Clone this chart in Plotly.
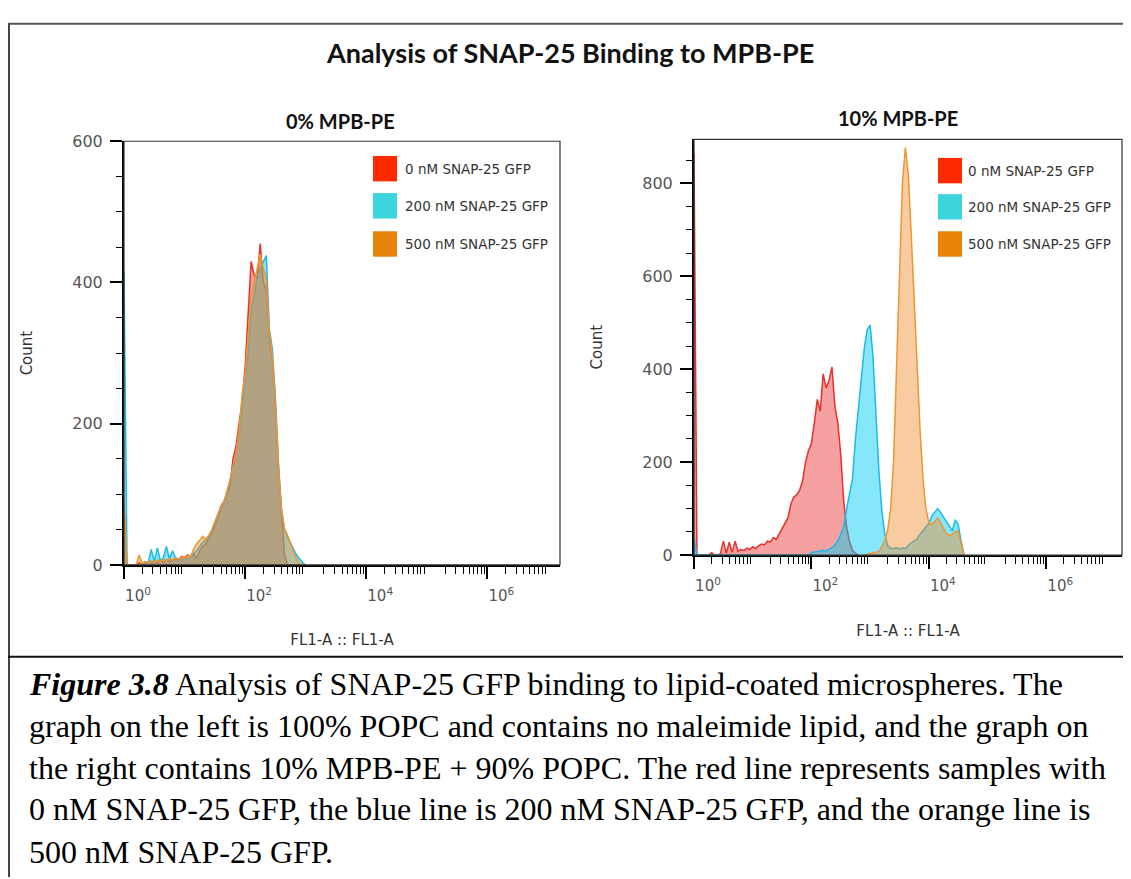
import numpy as np
import plotly.graph_objects as go

W, H = 1131, 879          # page / reference size
OFF = 8                   # default page body margin that offsets the figure

# ---------------- data (log10 FL1-A bin positions, counts) ----------------
SERIES_NAMES = ["0 nM SNAP-25 GFP", "200 nM SNAP-25 GFP", "500 nM SNAP-25 GFP"]

# Left panel: 0% MPB-PE
LEFT_X = [0.00, 0.05, 0.10, 0.15, 0.20, 0.25, 0.30, 0.35, 0.40, 0.45,
          0.50, 0.55, 0.60, 0.65, 0.70, 0.75, 0.80, 0.85, 0.90, 0.95,
          1.00, 1.05, 1.10, 1.15, 1.20, 1.25, 1.30, 1.35, 1.40, 1.45,
          1.50, 1.55, 1.60, 1.65, 1.70, 1.75, 1.80, 1.85, 1.90, 1.95,
          2.00, 2.05, 2.10, 2.15, 2.20, 2.25, 2.30, 2.35, 2.40, 2.45,
          2.50, 2.55, 2.60, 2.65, 2.70, 2.75, 2.80, 2.85, 2.90, 2.95, 3.00]
LEFT_RED = [80, 0, 0, 0, 0, 3, 0, 2, 4, 2,
            5, 3, 6, 4, 7, 5, 6, 8, 7, 12,
            10, 14, 11, 16, 9, 20, 26, 30, 38, 45,
            55, 68, 80, 88, 100, 112, 150, 168, 200, 230,
            280, 360, 430, 410, 405, 455, 400, 390, 320, 290,
            225, 135, 75, 15, 0, 0, 0, 0, 0, 0, 0]
LEFT_CYAN = [415, 0, 0, 0, 0, 0, 2, 3, 4, 22,
             5, 24, 6, 10, 26, 8, 20, 10, 8, 7,
             9, 8, 11, 15, 20, 26, 32, 36, 40, 48,
             58, 70, 84, 90, 100, 118, 138, 158, 185, 225,
             262, 300, 360, 380, 410, 420, 430, 438, 335, 305,
             238, 145, 78, 50, 40, 30, 22, 14, 8, 3, 0]
LEFT_ORANGE = [90, 0, 0, 0, 0, 14, 2, 5, 3, 6,
               4, 7, 5, 8, 6, 9, 7, 10, 8, 11,
               9, 13, 12, 22, 30, 35, 40, 36, 42, 50,
               62, 72, 82, 90, 105, 120, 140, 160, 190, 240,
               270, 320, 380, 400, 420, 440, 420, 405, 330, 295,
               230, 140, 80, 52, 42, 30, 18, 8, 2, 0, 0]

# Right panel: 10% MPB-PE
RIGHT_RED_X = [0.00, 0.05, 0.10, 0.15, 0.20, 0.25, 0.30, 0.35, 0.40, 0.45,
               0.50, 0.55, 0.60, 0.65, 0.70, 0.75, 0.80, 0.85, 0.90, 0.95,
               1.00, 1.05, 1.10, 1.15, 1.20, 1.25, 1.30, 1.35, 1.40, 1.45,
               1.50, 1.55, 1.60, 1.65, 1.70, 1.75, 1.80, 1.85, 1.90, 1.95,
               2.00, 2.05, 2.10, 2.15, 2.20, 2.25, 2.30, 2.35, 2.40, 2.45,
               2.50, 2.55, 2.60, 2.65, 2.70, 2.75, 2.80]
RIGHT_RED = [864, 0, 0, 0, 0, 0, 5, 0, 0, 3,
             30, 4, 28, 6, 30, 8, 12, 10, 15, 12,
             18, 14, 20, 24, 22, 30, 28, 38, 34, 45,
             58, 70, 80, 110, 125, 130, 140, 160, 200, 225,
             240, 285, 335, 310, 390, 360, 375, 405, 320, 285,
             215, 115, 60, 28, 10, 4, 0]
RIGHT_CYAN_X = [0.00, 0.05,
                1.95, 2.00, 2.05, 2.10, 2.15, 2.20, 2.25, 2.30, 2.35, 2.40,
                2.45, 2.50, 2.55, 2.60, 2.65, 2.70, 2.75, 2.80, 2.85, 2.90,
                2.95, 3.00, 3.05, 3.10, 3.15, 3.20, 3.25, 3.30, 3.35, 3.40,
                3.45, 3.50, 3.55, 3.60, 3.65, 3.70, 3.75, 3.80, 3.85, 3.90,
                3.95, 4.00, 4.05, 4.10, 4.15, 4.20, 4.25, 4.30, 4.35, 4.40,
                4.45, 4.50, 4.55, 4.60]
RIGHT_CYAN = [35, 0,
              0, 5, 7, 8, 9, 10, 9, 12, 16, 22,
              31, 45, 62, 100, 135, 165, 250, 320, 390, 445,
              485, 495, 425, 300, 180, 95, 45, 20, 15, 14,
              16, 13, 15, 14, 20, 27, 30, 35, 45, 52,
              60, 68, 84, 92, 100, 92, 82, 70, 62, 52,
              76, 66, 30, 0]
RIGHT_ORANGE_X = [2.90, 2.95, 3.00, 3.05, 3.10, 3.15, 3.20, 3.25, 3.30, 3.35,
                  3.40, 3.45, 3.50, 3.55, 3.60, 3.65, 3.70, 3.75, 3.80, 3.85,
                  3.90, 3.95, 4.00, 4.05, 4.10, 4.15, 4.20, 4.25, 4.30, 4.35,
                  4.40, 4.45, 4.50, 4.55, 4.60]
RIGHT_ORANGE = [0, 2, 3, 5, 6, 8, 18, 31, 55, 100,
                205, 410, 620, 800, 877, 820, 690, 540, 410, 270,
                165, 100, 70, 66, 72, 80, 70, 58, 46, 42,
                45, 50, 52, 25, 0]

LABELED_DECADES = [0, 2, 4, 6]
UNLABELED_DECADES = [1, 3, 5, 7]
DECADE_LABELS = ["10<sup>0</sup>", "10<sup>2</sup>", "10<sup>4</sup>", "10<sup>6</sup>"]

PANEL_TITLES = ["0% MPB-PE", "10% MPB-PE"]
MAIN_TITLE = "Analysis of SNAP-25 Binding to MPB-PE"
CAPTION_LINES = [
    "<b><i>Figure 3.8</i></b> Analysis of SNAP-25 GFP binding to lipid-coated microspheres. The",
    "graph on the left is 100% POPC and contains no maleimide lipid, and the graph on",
    "the right contains 10% MPB-PE + 90% POPC. The red line represents samples with",
    "0 nM SNAP-25 GFP, the blue line is 200 nM SNAP-25 GFP, and the orange line is",
    "500 nM SNAP-25 GFP.",
]

# ---------------- styles ----------------
LINE_COLORS = ["rgb(232,48,44)", "rgb(30,185,232)", "rgb(238,150,50)"]
FILL_COLORS = ["rgba(235,50,50,0.46)", "rgba(0,205,245,0.47)", "rgba(240,140,45,0.45)"]
LEGEND_COLORS = ["#ff2a00", "#3dd5dd", "#e8830a"]


def pxx(x):
    """page pixel x -> paper fraction"""
    return (x - OFF) / W


def pxy(y):
    """page pixel y -> paper fraction"""
    return 1 - (y - OFF) / H


fig = go.Figure()

left = [(LEFT_X, LEFT_RED), (LEFT_X, LEFT_CYAN), (LEFT_X, LEFT_ORANGE)]
right = [(RIGHT_RED_X, RIGHT_RED), (RIGHT_CYAN_X, RIGHT_CYAN), (RIGHT_ORANGE_X, RIGHT_ORANGE)]

for (xs, ys), name, lc, fc in zip(left, SERIES_NAMES, LINE_COLORS, FILL_COLORS):
    fig.add_trace(go.Scatter(x=10 ** np.array(xs), y=ys, mode="lines", name=name,
                             line=dict(color=lc, width=1.5), fill="tozeroy", fillcolor=fc,
                             xaxis="x", yaxis="y", showlegend=False))
for (xs, ys), name, lc, fc in zip(right, SERIES_NAMES, LINE_COLORS, FILL_COLORS):
    fig.add_trace(go.Scatter(x=10 ** np.array(xs), y=ys, mode="lines", name=name,
                             line=dict(color=lc, width=1.5), fill="tozeroy", fillcolor=fc,
                             xaxis="x2", yaxis="y2", showlegend=False))

tickfont = dict(family="DejaVu Sans", size=15, color="#555")
titlefont = dict(family="DejaVu Sans", size=15, color="#333")
minor_x = [d * 10 ** k for k in range(8) for d in range(2, 10)]


def xaxis_cfg(domain, anchor, rng):
    return dict(domain=domain, anchor=anchor, type="log", range=rng,
                tickvals=[10 ** k for k in LABELED_DECADES], ticktext=DECADE_LABELS,
                ticks="outside", ticklen=12, tickwidth=2, tickcolor="black",
                tickfont=tickfont, ticklabelshift=14, ticklabelstandoff=4,
                minor=dict(tickvals=minor_x, ticks="outside", ticklen=7, tickwidth=1.3, tickcolor="black"),
                showline=True, linecolor="black", linewidth=2, showgrid=False, zeroline=False,
                title=dict(text="FL1-A :: FL1-A", font=titlefont, standoff=31))


def xaxis_odd_cfg(domain, anchor, overlay, rng):
    return dict(domain=domain, anchor=anchor, overlaying=overlay, type="log", range=rng,
                tickvals=[10 ** k for k in UNLABELED_DECADES], showticklabels=False,
                ticks="outside", ticklen=12, tickwidth=2, tickcolor="black",
                showline=False, showgrid=False, zeroline=False)


def yaxis_cfg(domain, anchor, rng, tickvals):
    return dict(domain=domain, anchor=anchor, range=rng, tickvals=tickvals,
                ticks="outside", ticklen=12, tickwidth=2, tickcolor="black",
                tickfont=dict(family="DejaVu Sans", size=16, color="#555"), ticklabelstandoff=4,
                minor=dict(dtick=50, ticks="outside", ticklen=6, tickwidth=1.3, tickcolor="black"),
                showline=True, linecolor="black", linewidth=2, showgrid=False, zeroline=False,
                title=dict(text="Count", font=titlefont, standoff=36))


LEFT_XDOM = [pxx(124), pxx(560)]
RIGHT_XDOM = [pxx(694), pxx(1122)]
fig.update_layout(
    width=W, height=H, margin=dict(l=0, r=0, t=0, b=0),
    paper_bgcolor="white", plot_bgcolor="white", showlegend=False,
    xaxis=xaxis_cfg(LEFT_XDOM, "y", [0, 7.2]),
    yaxis=yaxis_cfg([pxy(568), pxy(135)], "x", [0, 600], [0, 200, 400, 600]),
    xaxis2=xaxis_cfg(RIGHT_XDOM, "y2", [0, 7.29]),
    yaxis2=yaxis_cfg([pxy(558), pxy(133)], "x2", [0, 895], [0, 200, 400, 600, 800]),
    xaxis3=xaxis_odd_cfg(LEFT_XDOM, "y", "x", [0, 7.2]),
    xaxis4=xaxis_odd_cfg(RIGHT_XDOM, "y2", "x2", [0, 7.29]),
)

shapes = []
# panel frames
for xr, yr in [("x", "y"), ("x2", "y2")]:
    shapes.append(dict(type="rect", xref=f"{xr} domain", yref=f"{yr} domain", x0=0, x1=1, y0=0, y1=1,
                       line=dict(color="#333", width=1.2), fillcolor="rgba(0,0,0,0)", layer="above"))
# outer figure frame
shapes.append(dict(type="line", xref="paper", yref="paper", x0=0, x1=1, y0=pxy(15), y1=pxy(15),
                   line=dict(color="#555", width=2)))
shapes.append(dict(type="line", xref="paper", yref="paper", x0=1 / W, x1=1 / W, y0=0, y1=pxy(15),
                   line=dict(color="#444", width=2)))
shapes.append(dict(type="line", xref="paper", yref="paper", x0=0, x1=1, y0=pxy(662), y1=pxy(662),
                   line=dict(color="#111", width=2)))

annotations = []
# legends
legend_pos = [(373, 403, [163, 201, 240]), (938, 966, [165, 202, 240])]
for sq_x, tx, ys in legend_pos:
    for name, col, yc in zip(SERIES_NAMES, LEGEND_COLORS, ys):
        shapes.append(dict(type="rect", xref="paper", yref="paper",
                           x0=pxx(sq_x), x1=pxx(sq_x + 24), y0=pxy(yc + 13), y1=pxy(yc - 13),
                           fillcolor=col, line=dict(width=0), layer="above"))
        annotations.append(dict(text=name, xref="paper", yref="paper", x=pxx(tx), y=pxy(yc),
                                xanchor="left", yanchor="middle", showarrow=False,
                                font=dict(family="DejaVu Sans", size=13.5, color="#333")))

annotations.append(dict(text=f"<b>{MAIN_TITLE}</b>", xref="paper", yref="paper", x=pxx(570), y=pxy(44),
                        xanchor="center", yanchor="middle", showarrow=False,
                        font=dict(family="Lato", size=27, color="#111")))
for title, xc, yc in zip(PANEL_TITLES, [340, 898], [114, 111]):
    annotations.append(dict(text=f"<b>{title}</b>", xref="paper", yref="paper", x=pxx(xc), y=pxy(yc),
                            xanchor="center", yanchor="middle", showarrow=False,
                            font=dict(family="Lato", size=20, color="#111")))

for line, yc in zip(CAPTION_LINES, [690, 733, 776, 818, 861]):
    annotations.append(dict(text=line, xref="paper", yref="paper", x=pxx(27), y=pxy(yc),
                            xanchor="left", yanchor="middle", showarrow=False,
                            font=dict(family="Liberation Serif", size=32, color="black")))

fig.update_layout(shapes=shapes, annotations=annotations)
fig.write_html("out.html")
